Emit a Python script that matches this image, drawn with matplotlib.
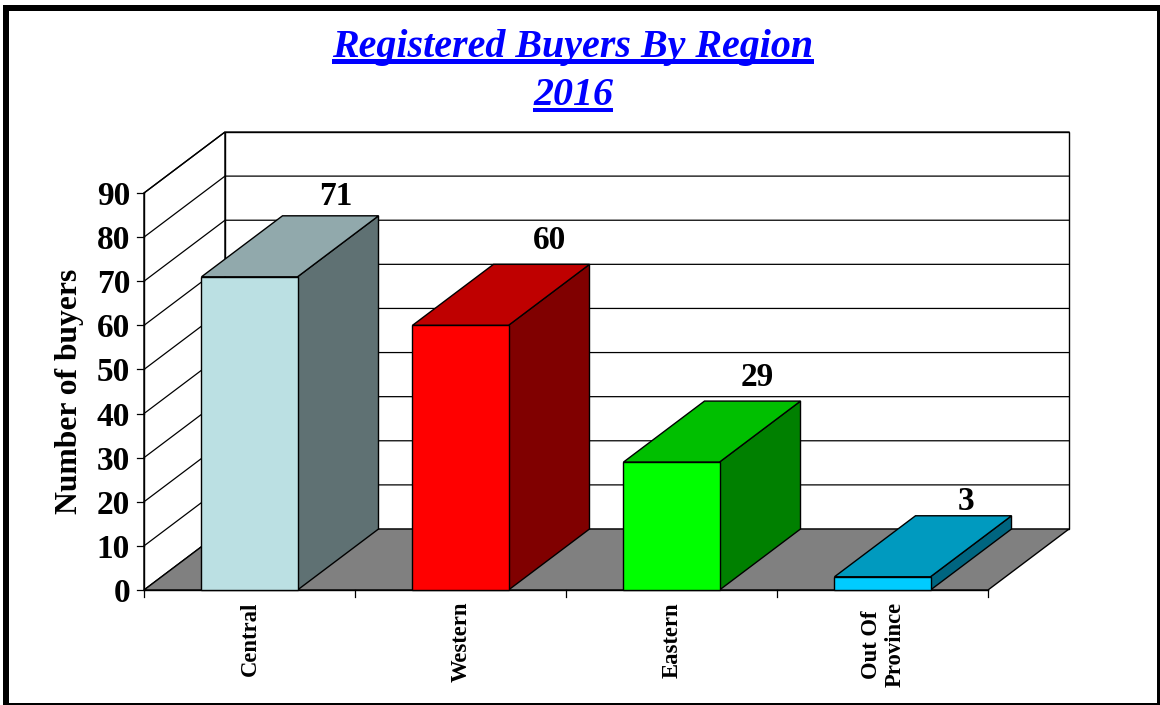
import matplotlib
matplotlib.use('Agg')
import matplotlib.pyplot as plt
from matplotlib.patches import Polygon, Rectangle

categories = ['Central', 'Western', 'Eastern', 'Out Of\nProvince']
buyers = [71, 60, 29, 3]
front_colors = ['#bbe0e3', '#ff0000', '#00ff00', '#00ccff']
top_colors = ['#91a9ac', '#bf0000', '#00bf00', '#009abf']
side_colors = ['#5f7173', '#800000', '#008000', '#006580']
y_ticks = list(range(0, 100, 10))

plt.rcParams['font.family'] = ['Liberation Serif', 'DejaVu Serif']
plt.rcParams['font.weight'] = 'bold'

W, H = 1160, 705
fig = plt.figure(figsize=(W / 100, H / 100), dpi=100)
ax = fig.add_axes([144 / W, 1 - 590 / H, (988 - 144) / W, (590 - 193) / H])
ax.set_xlim(0, 4)
ax.set_ylim(0, 90)
ax.axis('off')

# depth of the fake 3d box, in data units
dx = 81 / 211
dy = 61 / (397 / 90)
bar_w = 0.455
edge = 'black'
# the value labels do not sit at a constant place over the bars
label_gap = [0.85, 1.8, 1.8, -0.3]
label_shift = [0.41, 0.424, 0.405, 0.396]


def poly(pts, fc, z, lw=1.0):
    ax.add_patch(Polygon(pts, closed=True, facecolor=fc, edgecolor=edge,
                         linewidth=lw, zorder=z, clip_on=False, joinstyle='miter'))


# walls and floor
poly([(0, 0), (dx, dy), (dx, 90 + dy), (0, 90)], 'white', 1)
poly([(dx, dy), (4 + dx, dy), (4 + dx, 90 + dy), (dx, 90 + dy)], 'white', 1)
poly([(0, 0), (4, 0), (4 + dx, dy), (dx, dy)], '#808080', 2)

for t in y_ticks[1:]:
    ax.plot([0, dx, 4 + dx], [t, t + dy, t + dy], color=edge, lw=0.9, zorder=1.5, clip_on=False)
    ax.plot([-0.035, 0], [t, t], color=edge, lw=0.9, zorder=1.5, clip_on=False)
ax.plot([-0.035, 0], [0, 0], color=edge, lw=0.9, clip_on=False)
ax.plot([0, 0], [0, 90], color=edge, lw=1.0, zorder=3, clip_on=False)
ax.plot([0, 4], [0, 0], color=edge, lw=1.0, zorder=3, clip_on=False)
for i in range(5):
    ax.plot([i, i], [0, -1.6], color=edge, lw=0.9, clip_on=False)

# bars, they do not overlap so the order is free
for i, v in enumerate(buyers):
    x0 = i + 0.5 - bar_w / 2
    x1 = i + 0.5 + bar_w / 2
    poly([(x1, 0), (x1 + dx, dy), (x1 + dx, v + dy), (x1, v)], side_colors[i], 4)
    poly([(x0, v), (x1, v), (x1 + dx, v + dy), (x0 + dx, v + dy)], top_colors[i], 4)
    ax.add_patch(Rectangle((x0, 0), bar_w, v, facecolor=front_colors[i], edgecolor=edge,
                           linewidth=1.0, zorder=5, clip_on=False))
    ax.text(i + 0.5 + label_shift[i], v + dy + label_gap[i], str(v), fontsize=24, fontweight='bold',
            ha='center', va='bottom', zorder=6)
    ax.text(i + 0.505, -2.7, categories[i], fontsize=16.3, fontweight='bold', rotation=90,
            ha='center', va='top', ma='center', linespacing=1.14)

for t in y_ticks:
    ax.text(-0.066, t, str(t), fontsize=24, fontweight='bold', ha='right', va='center_baseline')

fig.text(69 / W, 1 - 391.5 / H, 'Number of buyers', fontsize=22.8, fontweight='bold',
         rotation=90, ha='center', va='center')

# title with hand drawn underline, text has no underline option
fig.canvas.draw()
renderer = fig.canvas.get_renderer()
for label, yc in [('Registered Buyers By Region', 57), ('2016', 105)]:
    t = fig.text(573 / W, 1 - yc / H, label, fontsize=28.8, fontweight='bold', style='italic',
                 color='#0000ff', ha='center', va='baseline')
    bb = t.get_window_extent(renderer)
    fig.add_artist(Rectangle((bb.x0 / W, 1 - (yc + 6.5) / H), bb.width / W, 4 / H,
                             transform=fig.transFigure, facecolor='#0000ff', edgecolor='none'))

# outer frame, four black strips of different thickness
frame = [(3, 5, 6, 700), (3, 5, 1157, 6), (1156.5, 5, 3.5, 700), (3, 703, 1157, 2)]
for x, y, w, h in frame:
    fig.add_artist(Rectangle((x / W, 1 - (y + h) / H), w / W, h / H, transform=fig.transFigure,
                             facecolor='black', edgecolor='none'))

fig.savefig('out.png', dpi=100)
